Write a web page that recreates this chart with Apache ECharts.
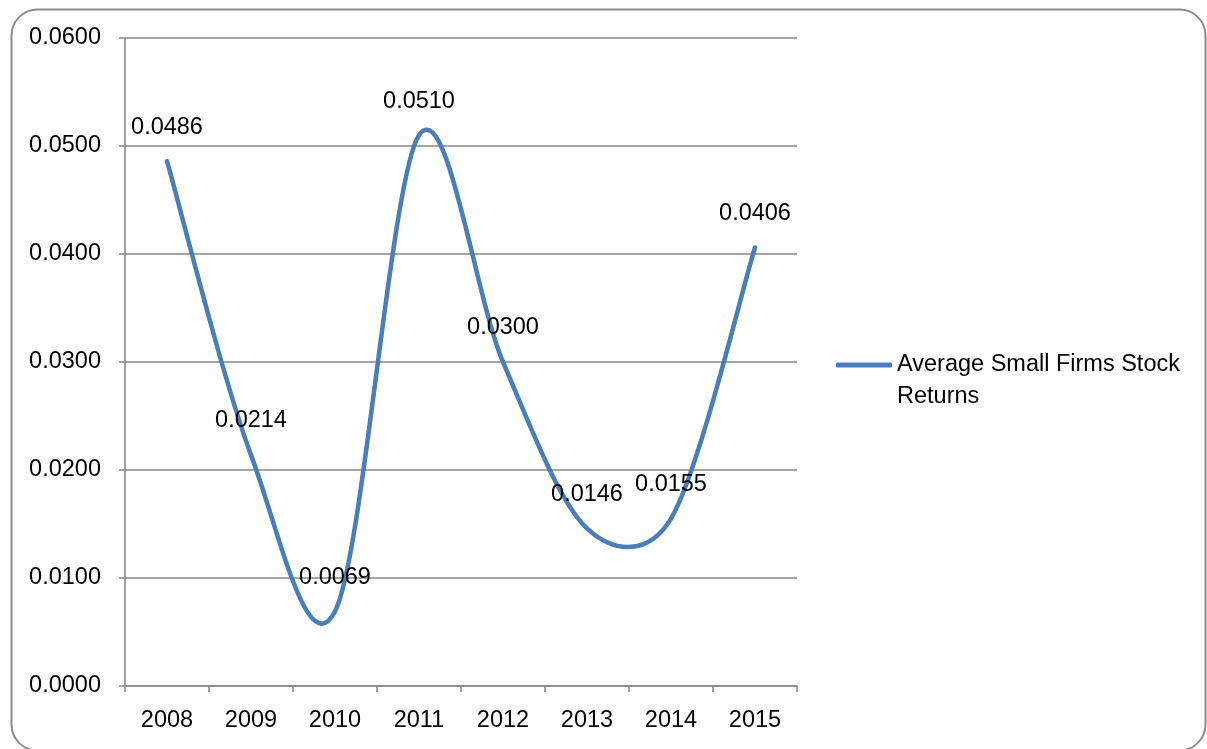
<!DOCTYPE html>
<html>
<head>
<meta charset="utf-8">
<title>Average Small Firms Stock Returns</title>
<script src="https://cdn.jsdelivr.net/npm/echarts@6/dist/echarts.min.js"></script>
<style>
  html, body { margin: 0; padding: 0; background: #ffffff; }
  #chart { width: 1207px; height: 749px; }
</style>
</head>
<body>
<div id="chart"></div>
<script>
// Yearly averages of small-firm stock returns
const years = ['2008', '2009', '2010', '2011', '2012', '2013', '2014', '2015'];
const smallFirmReturns = [0.0486, 0.0214, 0.0069, 0.0510, 0.0300, 0.0146, 0.0155, 0.0406];
const seriesName = 'Average Small Firms Stock Returns';

const FONT = '"Liberation Sans", Arial, sans-serif';
const FONT_SIZE = 23.5;
const GRID_GRAY = '#868686';
const LINE_BLUE = '#4A7EBB';
const TENSION = 1 / 6; // Catmull-Rom style tangent scale

const dist = (a, b) => Math.hypot(b[0] - a[0], b[1] - a[1]);

// Tangent scale for a control point: 1/6 of the chord, but never longer
// than half of the segment being drawn.
function tangentScale(chordLen, segLen) {
  if (chordLen === 0) return 0;
  return chordLen * TENSION < segLen / 2 ? TENSION : segLen / (2 * chordLen);
}

// One cubic Bezier segment per data point (from point i to point i+1),
// with tangents taken from the neighbouring points in pixel space.
function renderSmoothSegment(params, api) {
  const n = smallFirmReturns.length;
  const i = params.dataIndex;
  if (i >= n - 1) return null;
  const pt = k => {
    const c = Math.max(0, Math.min(n - 1, k));
    return api.coord([c, smallFirmReturns[c]]);
  };
  const p0 = pt(i - 1), p1 = pt(i), p2 = pt(i + 1), p3 = pt(i + 2);
  const seg = dist(p1, p2);
  const f1 = tangentScale(dist(p0, p2), seg);
  const f2 = tangentScale(dist(p1, p3), seg);
  return {
    type: 'bezierCurve',
    shape: {
      x1: p1[0], y1: p1[1],
      cpx1: p1[0] + (p2[0] - p0[0]) * f1,
      cpy1: p1[1] + (p2[1] - p0[1]) * f1,
      cpx2: p2[0] - (p3[0] - p1[0]) * f2,
      cpy2: p2[1] - (p3[1] - p1[1]) * f2,
      x2: p2[0], y2: p2[1]
    },
    style: { fill: null, stroke: LINE_BLUE, lineWidth: 4.5, lineCap: 'round' },
    silent: true
  };
}

const chart = echarts.init(document.getElementById('chart'), null, { renderer: 'canvas' });

chart.setOption({
  animation: false,
  backgroundColor: '#ffffff',
  textStyle: { fontFamily: FONT },
  graphic: [{
    type: 'rect',
    left: 9, top: 7,
    shape: { width: 1194, height: 741, r: 26 },
    style: { fill: 'none', stroke: '#8c8c8c', lineWidth: 2 },
    silent: true,
    z: -1
  }],
  grid: { left: 125, right: 410, top: 38, bottom: 63 },
  legend: {
    left: 836,
    top: 317,
    padding: 0,
    icon: 'roundRect',
    itemWidth: 56,
    itemHeight: 5,
    data: [{ name: seriesName }],
    itemStyle: { color: LINE_BLUE },
    // leading blank line keeps the first text line level with the swatch
    formatter: () => '\nAverage Small Firms Stock\nReturns',
    textStyle: {
      fontFamily: FONT, fontSize: FONT_SIZE, color: '#000000', lineHeight: 32
    }
  },
  xAxis: {
    type: 'category',
    data: years,
    boundaryGap: true,
    axisLine: { lineStyle: { color: GRID_GRAY, width: 1.5 } },
    axisTick: { show: true, length: 6, alignWithLabel: false, lineStyle: { color: GRID_GRAY, width: 1.5 } },
    axisLabel: { color: '#000000', fontFamily: FONT, fontSize: FONT_SIZE, margin: 23 },
    splitLine: { show: false }
  },
  yAxis: {
    type: 'value',
    min: 0, max: 0.06, interval: 0.01,
    axisLine: { show: true, lineStyle: { color: GRID_GRAY, width: 1.5 } },
    axisTick: { show: true, length: 6, lineStyle: { color: GRID_GRAY, width: 1.5 } },
    axisLabel: {
      color: '#000000', fontFamily: FONT, fontSize: FONT_SIZE, margin: 24,
      formatter: v => v.toFixed(4)
    },
    splitLine: { show: true, lineStyle: { color: GRID_GRAY, width: 1.5 } }
  },
  series: [{
    // smoothed curve through the yearly values
    type: 'custom',
    coordinateSystem: 'cartesian2d',
    data: smallFirmReturns.map((v, i) => [i, v]),
    renderItem: renderSmoothSegment,
    clip: false,
    z: 3,
    silent: true
  }, {
    // value labels (the series line itself is hidden; the curve above draws it)
    name: seriesName,
    type: 'line',
    data: smallFirmReturns,
    symbol: 'circle',
    symbolSize: 0.01,
    lineStyle: { opacity: 0 },
    itemStyle: { color: LINE_BLUE },
    z: 4,
    label: {
      show: true,
      position: 'top',
      distance: 22,
      color: '#000000',
      fontFamily: FONT,
      fontSize: FONT_SIZE,
      formatter: p => p.value.toFixed(4)
    },
    labelLayout: { hideOverlap: false }
  }]
});
</script>
</body>
</html>
